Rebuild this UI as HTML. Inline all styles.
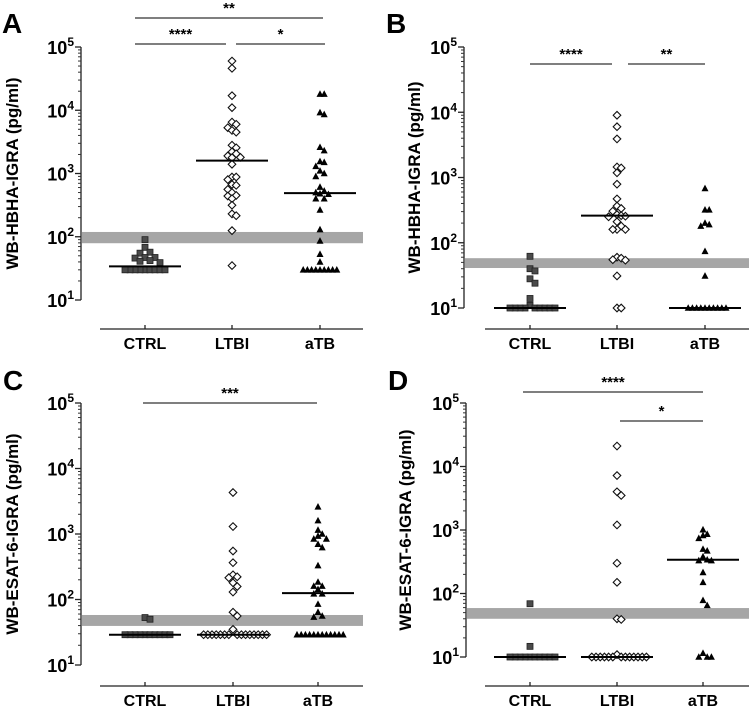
<!DOCTYPE html>
<html><head><meta charset="utf-8">
<style>
html,body{margin:0;padding:0;background:#fff;}
svg{display:block;font-family:"Liberation Sans",Arial,sans-serif;}
</style></head>
<body>
<svg id="fig" width="750" height="709" viewBox="0 0 750 709"></svg>
<script>
// ---------- data ----------
const categories = ["CTRL","LTBI","aTB"];
// Panel A: WB-HBHA-IGRA
const A_ctrl = [90,68,57,55,47,46,47,42,39,41,30,30,30,30,30,30,30,30,30];
const A_ltbi = [60000,46000,17000,11000,6500,6000,5300,4800,4500,2800,2550,2200,2050,1900,1800,1780,1400,880,880,800,670,650,560,500,450,440,400,315,230,215,125,35];
const A_atb  = [18000,18000,9200,8600,2600,2300,1550,1500,1300,1100,1000,900,610,530,500,480,470,400,400,265,130,86,53,40,30,30,30,30,30,30,30,30,30];
const A_medians = [34,1600,490];
const A_band = [79,119];
// Panel B: WB-HBHA-IGRA
const B_ctrl = [62,40,37,28,24,14,11,10,10,10,10,10,10,10,10,10];
const B_ltbi = [9000,6000,3900,1450,1400,1180,790,470,365,335,305,270,260,255,250,210,180,160,160,160,60,58,55,54,31,10,10];
const B_atb  = [680,320,320,200,190,180,74,31,10,10,10,10,10,10,10,10,10,10];
const B_medians = [10,260,10];
const B_band = [41,58];
// Panel C: WB-ESAT-6-IGRA
const C_ctrl = [53,50,29,29,29,29,29,29,29,29,29,29];
const C_ltbi = [4300,1300,550,365,238,222,215,180,158,130,64,56,35,29,29,29,29,29,29,29,29,29,29,29,29,29,29,29];
const C_atb  = [2600,1600,1150,1000,930,840,840,700,620,330,185,160,160,143,122,122,85,64,56,54,29,29,29,29,29,29,29,29,29,29,29,29];
const C_medians = [29,29,125];
const C_band = [39.5,58];
// Panel D: WB-ESAT-6-IGRA
const D_ctrl = [69,14.7,10,10,10,10,10,10,10,10,10,10];
const D_ltbi = [21000,7200,4000,3500,1200,300,150,40,39,10.9,10,10,10,10,10,10,10,10,10,10,10,10,10];
const D_atb  = [1010,860,820,740,500,470,380,340,330,330,215,150,78,65,11.5,10,10,10];
const D_medians = [10,10,340];
const D_band = [40,59];
const yTickExps = [1,2,3,4,5];

// ---------- layout ----------
const panels = [
 {id:"a", letter:"A", lx:2, ly:33, ax:81, tOff:63, yTop:47, yBot:300, xAxY:329, x1:100, x2:363, cats:[145,232,320],
  title:"WB-HBHA-IGRA (pg/ml)", data:[A_ctrl,A_ltbi,A_atb], med:A_medians, band:A_band,
  sig:[{t:"**",a:135,b:323,y:18},{t:"****",a:135,b:226,y:44},{t:"*",a:236,b:325,y:44}]},
 {id:"b", letter:"B", lx:386, ly:33, ax:464, tOff:44, yTop:47, yBot:308, xAxY:329, x1:485, x2:749, cats:[530,617,705],
  title:"WB-HBHA-IGRA (pg/ml)", data:[B_ctrl,B_ltbi,B_atb], med:B_medians, band:B_band,
  sig:[{t:"****",a:530,b:612,y:64},{t:"**",a:628,b:705,y:64}]},
 {id:"c", letter:"C", lx:3, ly:390, ax:81, tOff:63, yTop:403, yBot:665, xAxY:686, x1:100, x2:363, cats:[145,233,318],
  title:"WB-ESAT-6-IGRA (pg/ml)", data:[C_ctrl,C_ltbi,C_atb], med:C_medians, band:C_band,
  sig:[{t:"***",a:143,b:317,y:403}]},
 {id:"d", letter:"D", lx:388, ly:390, ax:466, tOff:55, yTop:403, yBot:657, xAxY:686, x1:485, x2:749, cats:[530,617,703],
  title:"WB-ESAT-6-IGRA (pg/ml)", data:[D_ctrl,D_ltbi,D_atb], med:D_medians, band:D_band,
  sig:[{t:"****",a:523,b:703,y:392},{t:"*",a:620,b:703,y:421}]}
];

const NS="http://www.w3.org/2000/svg";
const svg=document.getElementById("fig");
function mk(tag,attrs,parent){const e=document.createElementNS(NS,tag);for(const k in attrs)e.setAttribute(k,attrs[k]);(parent||svg).appendChild(e);return e;}

panels.forEach(p=>{
  const g=mk("g",{});
  
  
  const yScale=v=>p.yBot-(Math.log10(v)-1)*(p.yBot-p.yTop)/4;

  const L=mk("text",{x:p.lx,y:p.ly,"font-size":"28","font-weight":"bold"},g);
  L.textContent=p.letter;
  
  

  const bnd=mk("rect",{x:p.ax+1,y:yScale(p.band[1]),width:p.x2-p.ax-1,height:yScale(p.band[0])-yScale(p.band[1]),fill:"#a6a6a6"},g);
  
  

  const ya=mk("line",{x1:p.ax,x2:p.ax,y1:p.yTop,y2:p.yBot,stroke:"#222","stroke-width":1.3},g);
  
  
  yTickExps.forEach(e=>{
    const y=yScale(Math.pow(10,e));
    mk("line",{x1:p.ax-6,x2:p.ax,y1:y,y2:y,stroke:"#222","stroke-width":1.3},g);
    const t=mk("text",{x:p.ax-7,y:y+7,"font-size":"18","font-weight":"bold","text-anchor":"end"},g);
    t.textContent="10";
    const s=mk("tspan",{dy:"-8","font-size":"12"},t);
    s.textContent=String(e);
    
    
    if(e<5){for(let m=2;m<=9;m++){const ym=yScale(m*Math.pow(10,e));mk("line",{x1:p.ax-3,x2:p.ax,y1:ym,y2:ym,stroke:"#333","stroke-width":1},g);}}
  });
  const yt=mk("text",{transform:`translate(${p.ax-p.tOff},${(p.yTop+p.yBot)/2}) rotate(-90)`,"font-size":"17","font-weight":"bold","text-anchor":"middle"},g);
  yt.textContent=p.title;
  
  

  const xa=mk("line",{x1:p.x1,x2:p.x2,y1:p.xAxY,y2:p.xAxY,stroke:"#222","stroke-width":1.3},g);
  
  
  p.cats.forEach((cx,i)=>{
    mk("line",{x1:cx,x2:cx,y1:p.xAxY-4,y2:p.xAxY,stroke:"#222","stroke-width":1.3},g);
    const t=mk("text",{x:cx,y:p.xAxY+20,"font-size":"16","font-weight":"bold","text-anchor":"middle"},g);
    t.textContent=categories[i];
    
    
  });

  p.data.forEach((vals,ci)=>{
    const cx=p.cats[ci];
    const step=ci===0?5:4.2;
    const placed=[];
    const sorted=vals.slice().sort((a,b)=>b-a);
    sorted.forEach(v=>{
      const y=yScale(v);
      let dx=0;
      for(let k=0;k<60;k++){
        const cand=k===0?0:(k%2? Math.ceil(k/2):-Math.ceil(k/2))*step;
        if(!placed.some(q=>Math.abs(q.dx-cand)<step-0.1&&Math.abs(q.y-y)<step+1.5)){dx=cand;break;}
      }
      placed.push({dx,y});
      const x=cx+dx;
      let m;
      if(ci===0){m=mk("rect",{x:x-3,y:y-3,width:6,height:6,fill:"#4a4a4a",stroke:"#222","stroke-width":0.8},g);}
      else if(ci===1){m=mk("polygon",{points:`${x},${y-3.8} ${x+3.8},${y} ${x},${y+3.8} ${x-3.8},${y}`,fill:"#fff",stroke:"#111","stroke-width":1.1},g);}
      else {m=mk("polygon",{points:`${x},${y-3.8} ${x+3.5},${y+2.8} ${x-3.5},${y+2.8}`,fill:"#000"},g);}
      
      
    });
    const my=yScale(p.med[ci]);
    const ml=mk("line",{x1:cx-36,x2:cx+36,y1:my,y2:my,stroke:"#000","stroke-width":2},g);
    
    
  });

  p.sig.forEach(s=>{
    const l=mk("line",{x1:s.a,x2:s.b,y1:s.y,y2:s.y,stroke:"#333","stroke-width":1.2},g);
    
    
    const t=mk("text",{x:(s.a+s.b)/2,y:s.y-5,"font-size":"15","font-weight":"bold","text-anchor":"middle"},g);
    t.textContent=s.t;
    
    
  });
});
</script>
</body></html>
